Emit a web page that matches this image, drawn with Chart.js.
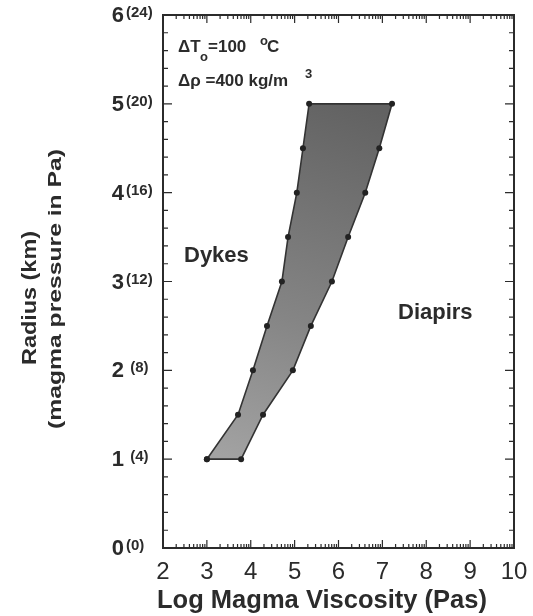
<!DOCTYPE html>
<html>
<head>
<meta charset="utf-8">
<script src="https://cdn.jsdelivr.net/npm/chart.js@4"></script>
<style>
  body { margin: 0; background: #fff; }
  #wrap { width: 533px; height: 616px; }
</style>
</head>
<body>
<div id="wrap"><canvas id="myChart" width="533" height="616"></canvas></div>
<script>
// values
const radiusKm = [1, 1.5, 2, 2.5, 3, 3.5, 4, 4.5, 5];
const dykeEdge = [3.0, 3.71, 4.05, 4.37, 4.71, 4.85, 5.05, 5.19, 5.33];
const diapirEdge = [3.78, 4.28, 4.96, 5.37, 5.85, 6.22, 6.61, 6.93, 7.22];
const xTicks = [2, 3, 4, 5, 6, 7, 8, 9, 10];
const yTicks = [0, 1, 2, 3, 4, 5, 6];
const pressureLabels = ["(0)", " (4)", " (8)", "(12)", "(16)", "(20)", "(24)"];

const ink = "#2b2b2b";
const face = "'Liberation Sans', Arial, sans-serif";

// closed outline: dyke edge going up, diapir edge coming down
const outline = [];
dykeEdge.forEach((x, i) => outline.push({ x: x, y: radiusKm[i] }));
for (let i = diapirEdge.length - 1; i >= 0; i--) {
  outline.push({ x: diapirEdge[i], y: radiusKm[i] });
}
outline.push({ x: dykeEdge[0], y: radiusKm[0] });

function fieldFill(context) {
  const chart = context.chart;
  if (!chart.chartArea) return "#888";
  const xs = chart.scales.x, ys = chart.scales.y;
  const g = chart.ctx.createLinearGradient(xs.getPixelForValue(3.6), ys.getPixelForValue(1),
                                           xs.getPixelForValue(6.4), ys.getPixelForValue(5));
  g.addColorStop(0, "#a2a2a2");
  g.addColorStop(0.4, "#858585");
  g.addColorStop(1, "#626262");
  return g;
}

// text squeezed/stretched along its baseline to a given length
function fitText(ctx, text, x, y, font, width) {
  ctx.font = font;
  const w = ctx.measureText(text).width;
  ctx.save();
  ctx.translate(x, y);
  ctx.scale(width / w, 1);
  ctx.textAlign = "center";
  ctx.fillText(text, 0, 0);
  ctx.restore();
}

const frameAndText = {
  id: "frameAndText",
  afterDraw(chart) {
    const ctx = chart.ctx;
    const a = chart.chartArea;
    const xs = chart.scales.x, ys = chart.scales.y;
    ctx.save();
    ctx.strokeStyle = ink;
    ctx.fillStyle = ink;

    // frame
    ctx.lineWidth = 2;
    ctx.strokeRect(a.left, a.top, a.right - a.left, a.bottom - a.top);

    // x ticks (major + log minor), bottom and top
    ctx.lineWidth = 1.2;
    ctx.beginPath();
    xTicks.forEach(v => {
      const px = xs.getPixelForValue(v);
      ctx.moveTo(px, a.bottom); ctx.lineTo(px, a.bottom - 8);
      ctx.moveTo(px, a.top); ctx.lineTo(px, a.top + 8);
      if (v < 10) {
        for (let k = 2; k <= 9; k++) {
          const m = xs.getPixelForValue(v + Math.log10(k));
          ctx.moveTo(m, a.bottom); ctx.lineTo(m, a.bottom - 4);
          ctx.moveTo(m, a.top); ctx.lineTo(m, a.top + 4);
        }
      }
    });
    // y ticks every 0.2, longer at integers, left and right
    for (let i = 0; i <= 30; i++) {
      const py = ys.getPixelForValue(i * 0.2);
      const len = i % 5 === 0 ? 9 : 5;
      ctx.moveTo(a.left, py); ctx.lineTo(a.left + len, py);
      ctx.moveTo(a.right, py); ctx.lineTo(a.right - len, py);
    }
    ctx.stroke();

    // x tick labels
    ctx.font = "24px " + face;
    ctx.textAlign = "center";
    ctx.textBaseline = "middle";
    xTicks.forEach(v => ctx.fillText(String(v), xs.getPixelForValue(v), a.bottom + 24));

    // y tick labels: radius with pressure in brackets
    yTicks.forEach((v, i) => {
      const py = ys.getPixelForValue(v);
      ctx.font = "bold 22px " + face;
      ctx.textAlign = "right";
      ctx.textBaseline = "middle";
      ctx.fillText(String(v), 124, py + 1);
      ctx.font = "bold 15px " + face;
      ctx.textAlign = "left";
      ctx.fillText(pressureLabels[i], 126, py - 2);
    });

    // axis titles
    ctx.textBaseline = "middle";
    fitText(ctx, "Log Magma Viscosity (Pas)", 322, a.bottom + 53, "bold 25px " + face, 330);

    ctx.save();
    ctx.translate(30, 298);
    ctx.rotate(-Math.PI / 2);
    fitText(ctx, "Radius (km)", 0, 0, "bold 21px " + face, 134);
    ctx.restore();
    ctx.save();
    ctx.translate(56, 289);
    ctx.rotate(-Math.PI / 2);
    fitText(ctx, "(magma pressure in Pa)", 0, 0, "bold 19px " + face, 280);
    ctx.restore();

    // regime labels
    ctx.font = "bold 22px " + face;
    ctx.textAlign = "left";
    ctx.fillText("Dykes", 184, 256);
    ctx.fillText("Diapirs", 398, 313);

    // conditions
    const big = "bold 17px " + face, small = "bold 13px " + face;
    ctx.font = big;
    ctx.fillText("\u0394T", 178, 47);
    ctx.font = small;
    ctx.fillText("o", 200, 57);
    ctx.font = big;
    ctx.fillText("=100", 208, 47);
    ctx.font = small;
    ctx.fillText("o", 260, 41);
    ctx.font = big;
    ctx.fillText("C", 267, 47);
    ctx.fillText("\u0394\u03c1 =400 kg/m", 178, 81);
    ctx.font = small;
    ctx.fillText("3", 305, 74);

    ctx.restore();
  }
};

new Chart(document.getElementById("myChart"), {
  type: "scatter",
  data: {
    datasets: [{
      data: outline,
      showLine: true,
      fill: "shape",
      tension: 0,
      borderColor: "#333",
      borderWidth: 1.6,
      backgroundColor: fieldFill,
      pointRadius: 3,
      pointBackgroundColor: "#222",
      pointBorderWidth: 0
    }]
  },
  plugins: [frameAndText],
  options: {
    responsive: false,
    animation: false,
    layout: { padding: { left: 163, right: 19, top: 15, bottom: 68 } },
    scales: {
      x: { type: "linear", min: 2, max: 10, display: false },
      y: { type: "linear", min: 0, max: 6, display: false }
    },
    plugins: {
      legend: { display: false },
      tooltip: { enabled: false }
    }
  }
});
</script>
</body>
</html>
